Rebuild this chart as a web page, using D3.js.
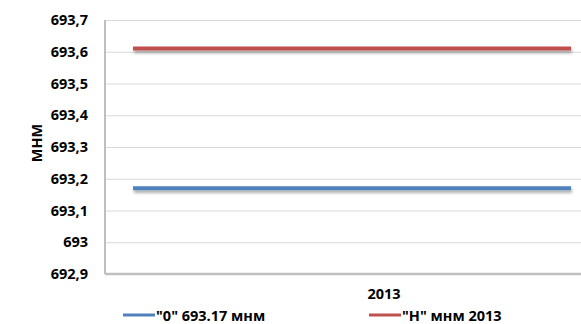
<!DOCTYPE html>
<html>
<head>
<meta charset="utf-8">
<script src="https://cdn.jsdelivr.net/npm/d3@7"></script>
<style>
  body { margin: 0; background: #fff; }
  text { font-family: "Open Sans", "DejaVu Sans", sans-serif; font-weight: bold; fill: #000; }
</style>
</head>
<body>
<div id="chart"></div>
<script>
const width = 581
const height = 324
const margin = { top: 20, bottom: 50, left: 105, right: -19 }

// datos
const yTicks = [692.9, 693, 693.1, 693.2, 693.3, 693.4, 693.5, 693.6, 693.7]
const xPoints = [0, 1]
const seriesNames = ['"0" 693.17 мнм', '"Н" мнм 2013']
const zeroLevel = [693.17, 693.17]
const levelH = [693.61, 693.61]
const colors = ["#4F81BD", "#C0504D"]
const xTitle = "2013"
const yTitle = "МНМ"

const series = [
  { name: seriesNames[0], values: zeroLevel, color: colors[0] },
  { name: seriesNames[1], values: levelH, color: colors[1] },
]

const svg = d3.select("#chart").append("svg")
  .attr("width", width)
  .attr("height", height)

// sombra (userSpaceOnUse porque las líneas son horizontales)
const defs = svg.append("defs")
const f = defs.append("filter").attr("id", "shadow")
  .attr("filterUnits", "userSpaceOnUse")
  .attr("x", 0).attr("y", 0).attr("width", width).attr("height", height)
f.append("feDropShadow")
  .attr("dx", 1).attr("dy", 2.5).attr("stdDeviation", 1.5)
  .attr("flood-color", "#000").attr("flood-opacity", 0.35)

const innerW = width - margin.left - margin.right
const innerH = height - margin.top - margin.bottom

const y = d3.scaleLinear().domain([692.9, 693.7]).range([innerH, 0])
const x = d3.scaleLinear().domain([0, 1]).range([28, 466])

const ru = d3.formatLocale({ decimal: ",", thousands: " ", grouping: [3], currency: ["", ""] })
const fmt = ru.format(".1~f")

const g = svg.append("g").attr("transform", `translate(${margin.left}, ${margin.top})`)

// rejilla
const yAxis = d3.axisLeft(y).tickValues(yTicks).tickFormat(fmt).tickSize(-innerW).tickPadding(17)
const yAxisGroup = g.append("g").call(yAxis)
yAxisGroup.select(".domain").remove()
yAxisGroup.selectAll(".tick line").attr("stroke", "#D9D9D9").attr("stroke-width", 1.2)
yAxisGroup.selectAll(".tick text").style("font-size", "14.5px")

// ejes
g.append("line").attr("x1", 0).attr("x2", 0).attr("y1", 0).attr("y2", innerH)
  .attr("stroke", "#BFBFBF").attr("stroke-width", 2)
g.append("line").attr("x1", 0).attr("x2", innerW).attr("y1", innerH).attr("y2", innerH)
  .attr("stroke", "#BFBFBF").attr("stroke-width", 2.5)

// líneas
const line = d3.line().x((d, i) => x(xPoints[i])).y(d => y(d))
g.selectAll(".serie").data(series).enter()
  .append("path")
    .attr("class", "serie")
    .attr("d", d => line(d.values))
    .attr("fill", "none")
    .attr("stroke", d => d.color)
    .attr("stroke-width", 4)
    .attr("filter", "url(#shadow)")

// títulos
svg.append("text")
  .attr("x", 384).attr("y", 299)
  .attr("text-anchor", "middle")
  .style("font-size", "14.5px")
  .text(xTitle)

svg.append("text")
  .attr("transform", `translate(42, 143) rotate(-90)`)
  .attr("text-anchor", "middle")
  .style("font-size", "14.5px")
  .text(yTitle)

// leyenda
const legendX = [123, 369]
const legend = svg.selectAll(".legend").data(series).enter()
  .append("g")
    .attr("class", "legend")
    .attr("transform", (d, i) => `translate(${legendX[i]}, 315)`)
legend.append("line")
  .attr("x1", 0).attr("x2", 32)
  .attr("stroke", d => d.color).attr("stroke-width", 3)
legend.append("text")
  .attr("x", 33).attr("y", 5.5)
  .style("font-size", "14.5px")
  .text(d => d.name)
</script>
</body>
</html>
